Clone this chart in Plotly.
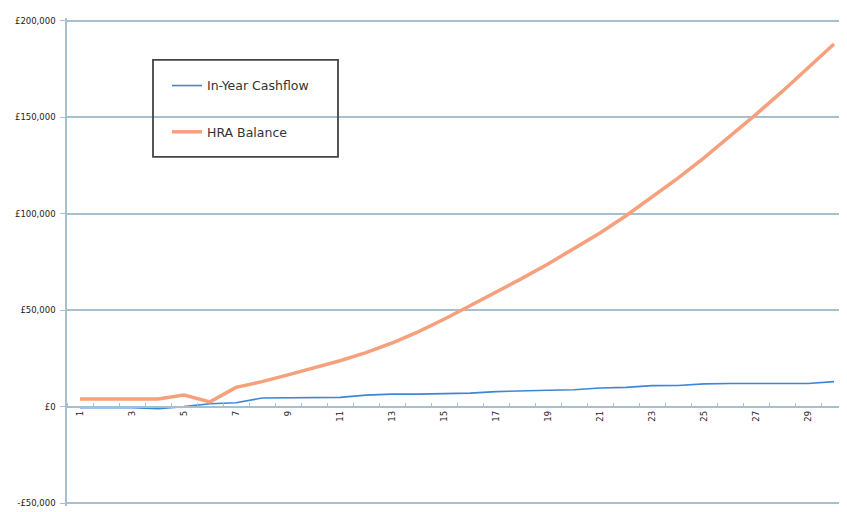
import plotly.graph_objects as go

years = list(range(1, 31))
cashflow = [-500, -500, -500, -1000, 0, 1500, 2000, 4500, 4500, 4500,
            4800, 6000, 6500, 6500, 6600, 7000, 7800, 8000, 8500, 8800,
            9700, 10000, 10900, 11000, 11800, 12000, 12000, 12000, 12000, 13000]
hra_balance = [4000, 4000, 4000, 4000, 6000, 2500, 10000, 13000, 16500, 20000,
               23800, 28000, 33000, 38800, 45300, 52300, 59300, 66500, 74000, 81800,
               90000, 99000, 108500, 118500, 129000, 140000, 151500, 163300, 175500, 188000]
x_tick_vals = list(range(1, 31, 2))
x_tick_text = [str(v) for v in x_tick_vals]
y_tick_vals = [-50000, 0, 50000, 100000, 150000, 200000]
y_tick_text = ["-£50,000", "£0", "£50,000", "£100,000", "£150,000", "£200,000"]

grid_col = "#a7c0cf"
fig = go.Figure()
fig.add_trace(go.Scatter(x=years, y=cashflow, mode="lines", name="In-Year Cashflow",
                         line=dict(color="#3d86d8", width=1.6), legendgroup="a"))
fig.add_trace(go.Scatter(x=years, y=hra_balance, mode="lines", name="HRA Balance",
                         line=dict(color="#f6a07c", width=3.5), legendgroup="b"))

# page body has an 8px offset; figure coordinates below are screen coords minus 8
OFF = 8
W, H = 847 - OFF, 512 - OFF
YMIN, YMAX, PAD = -50000, 200000, 1500
scale = (503 - 21) / (YMAX - YMIN)          # px per unit
top_s = 21 - PAD * scale
bot_s = 503 + PAD * scale
L, R = 67 - OFF, 0
T = top_s - OFF
B = H - (bot_s - OFF)
pw, ph = W - L - R, H - T - B

def px_x(sx):
    return (sx - OFF - L) / pw

def px_y(sy):
    return (H - B - (sy - OFF)) / ph

fig.update_layout(
    width=W, height=H,
    margin=dict(l=L, r=R, t=T, b=B, autoexpand=False),
    paper_bgcolor="white", plot_bgcolor="white",
    font=dict(family="DejaVu Sans, Arial, sans-serif", color="#333333"),
    showlegend=True,
    legend=dict(x=px_x(167), y=px_y(71), xanchor="left", yanchor="top",
                bgcolor="rgba(255,255,255,0)", borderwidth=0,
                font=dict(family="DejaVu Sans", size=12.5, color="#333333"),
                traceorder="grouped", tracegroupgap=27, itemwidth=30),
    xaxis=dict(range=[0.5, 30.5], tickmode="array", tickvals=x_tick_vals, ticktext=x_tick_text,
               tickangle=-90, tickfont=dict(size=8.5, color="#222222"), automargin=False,
               showgrid=False, zeroline=False, showline=True, linecolor=grid_col, linewidth=1.5,
               anchor="free", position=(0 - (YMIN - PAD)) / (YMAX - YMIN + 2 * PAD),
               ticks="", minor=dict(tickmode="linear", tick0=0.5, dtick=1, ticks="inside",
                                    ticklen=3, tickcolor=grid_col, showgrid=False)),
    yaxis=dict(range=[YMIN - PAD, YMAX + PAD], tickmode="array", tickvals=y_tick_vals, ticktext=y_tick_text,
               tickfont=dict(size=8.5, color="#222222"), showgrid=True, gridcolor=grid_col, gridwidth=1.5,
               zeroline=False, showline=True, linecolor=grid_col, linewidth=1.5, automargin=False,
               ticks="outside", ticklen=5, tickcolor=grid_col, ticklabelstandoff=3),
    shapes=[dict(type="rect", xref="paper", yref="paper",
                 x0=px_x(153), x1=px_x(338), y0=px_y(157), y1=px_y(60),
                 line=dict(color="#444444", width=1.8), fillcolor="rgba(0,0,0,0)")],
)
fig.write_html("out.html")
